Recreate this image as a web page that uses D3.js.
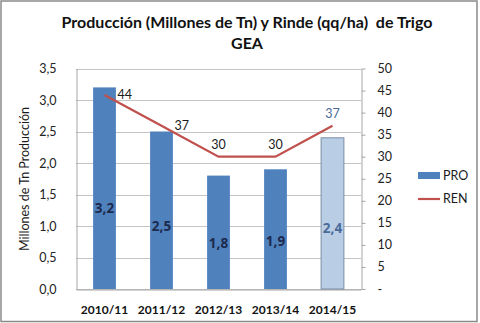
<!DOCTYPE html>
<html>
<head>
<meta charset="utf-8">
<script src="https://cdn.jsdelivr.net/npm/d3@7"></script>
<style>
  html, body { margin: 0; padding: 0; background: #fff; }
  svg { display: block; font-family: Lato, "Open Sans", sans-serif; }
</style>
</head>
<body>
<script>
// Wheat production (million t) and yield (qq/ha) by campaign
const campaigns = ["2010/11", "2011/12", "2012/13", "2013/14", "2014/15"];
const produccion = [3.2, 2.5, 1.8, 1.9, 2.4];
const rinde = [44, 37, 30, 30, 37];
const leftTicks = [0, 0.5, 1, 1.5, 2, 2.5, 3, 3.5];
const rightTicks = [0, 5, 10, 15, 20, 25, 30, 35, 40, 45, 50];
const seriesNames = ["PRO", "REN"];
const rindeLabelSide = ["right", "right", "above", "above", "above"];

const W = 480, H = 323;
const plot = { left: 76, right: 361, top: 68.5, bottom: 289 };

const es = d3.formatLocale({ decimal: ",", thousands: ".", grouping: [3], currency: ["$", ""] });
const fmt1 = es.format(".1f");
const fmt0 = es.format(".0f");

const svg = d3.select("body").append("svg").attr("width", W).attr("height", H);

// outer frame
svg.append("rect").attr("x", 1).attr("y", 1).attr("width", W - 4).attr("height", H - 2.5)
  .attr("fill", "#fff").attr("stroke", "#8a8a8a").attr("stroke-width", 1.5);

const x = d3.scaleBand().domain(campaigns).range([plot.left, plot.right]).paddingInner(0.6).paddingOuter(0.3);
const xc = d3.scaleBand().domain(campaigns).range([plot.left, plot.right]);
const yL = d3.scaleLinear().domain([0, 3.5]).range([plot.bottom, plot.top]);
const yR = d3.scaleLinear().domain([0, 50]).range([plot.bottom, plot.top]);

// gridlines
svg.append("g").selectAll("line").data(leftTicks).join("line")
  .attr("x1", plot.left).attr("x2", plot.right)
  .attr("y1", d => Math.round(yL(d)) + 0.5).attr("y2", d => Math.round(yL(d)) + 0.5)
  .attr("stroke", "#c4c4c4").attr("stroke-width", 1);

// left axis
const axL = svg.append("g").attr("transform", `translate(${plot.left + 0.5},0)`)
  .call(d3.axisLeft(yL).tickValues(leftTicks).tickFormat(fmt1).tickSize(0).tickPadding(20));
axL.select(".domain").attr("stroke", "#a6a6a6");
axL.selectAll("text").attr("font-size", 12.5).attr("fill", "#222").attr("font-family", "Lato, sans-serif");

// right axis
const axR = svg.append("g").attr("transform", `translate(${plot.right + 0.5},0)`)
  .call(d3.axisRight(yR).tickValues(rightTicks).tickFormat(d => d === 0 ? "-" : fmt0(d)).tickSizeInner(4).tickSizeOuter(0).tickPadding(12));
axR.select(".domain").attr("stroke", "#a6a6a6");
axR.selectAll(".tick line").attr("stroke", "#a6a6a6");
axR.selectAll("text").attr("font-size", 12.5).attr("fill", "#222").attr("font-family", "Lato, sans-serif");

// bottom axis
const axB = svg.append("g").attr("transform", `translate(0,${Math.round(plot.bottom) + 0.5})`)
  .call(d3.axisBottom(xc).tickSize(0).tickPadding(16));
axB.select(".domain").attr("stroke", "#a6a6a6");
axB.selectAll("text").attr("font-size", 12).attr("font-weight", "bold").attr("fill", "#111")
  .attr("font-family", "Lato, sans-serif");

// production bars (last campaign is an estimate, drawn lighter)
const last = campaigns.length - 1;
svg.append("g").selectAll("rect").data(produccion).join("rect")
  .attr("x", (d, i) => x(campaigns[i]))
  .attr("width", x.bandwidth())
  .attr("y", d => yL(d))
  .attr("height", d => yL(0) - yL(d))
  .attr("fill", (d, i) => i === last ? "#b9cde5" : "#4f81bd")
  .attr("stroke", (d, i) => i === last ? "#7a8da6" : "none")
  .attr("stroke-width", 1);

// bar value labels
svg.append("g").selectAll("text").data(produccion).join("text")
  .attr("x", (d, i) => x(campaigns[i]) + x.bandwidth() / 2)
  .attr("y", d => yL(d * 0.4))
  .attr("dy", "0.35em")
  .attr("text-anchor", "middle")
  .attr("font-family", "'Open Sans', sans-serif")
  .attr("font-size", 13.5).attr("font-weight", "bold")
  .attr("fill", (d, i) => i === last ? "#4a6a98" : "#1c2a4e")
  .text(d => fmt1(d));

// yield line
const line = d3.line().x((d, i) => xc(campaigns[i]) + xc.bandwidth() / 2).y(d => yR(d));
svg.append("path").datum(rinde).attr("d", line)
  .attr("fill", "none").attr("stroke", "#c0504d").attr("stroke-width", 2.2);

// yield labels
svg.append("g").selectAll("text").data(rinde).join("text")
  .attr("x", (d, i) => xc(campaigns[i]) + xc.bandwidth() / 2 + (rindeLabelSide[i] === "right" ? 13 : 0))
  .attr("y", d => yR(d))
  .attr("dy", (d, i) => rindeLabelSide[i] === "right" ? "0.3em" : "-0.6em")
  .attr("text-anchor", (d, i) => rindeLabelSide[i] === "right" ? "start" : "middle")
  .attr("font-size", 12.5)
  .attr("fill", (d, i) => i === last ? "#4a6a98" : "#1a1a1a")
  .text(d => fmt0(d));

// title
const title = svg.append("text").attr("text-anchor", "middle").attr("font-weight", "bold")
  .attr("font-size", 16).attr("fill", "#111");
title.append("tspan").attr("x", 247).attr("y", 28).text("Producción (Millones de Tn) y Rinde (qq/ha)\u00a0 de Trigo");
title.append("tspan").attr("x", 247).attr("y", 49).text("GEA");

// left axis title
svg.append("text").attr("transform", "translate(29,179) rotate(-90)")
  .attr("text-anchor", "middle").attr("font-size", 12.5).attr("fill", "#1a1a1a")
  .text("Millones de Tn Producción");

// legend
const lg = svg.append("g").attr("transform", "translate(418,0)");
lg.append("rect").attr("x", 0).attr("y", 172).attr("width", 22).attr("height", 7).attr("fill", "#4f81bd");
lg.append("line").attr("x1", 0).attr("x2", 22).attr("y1", 199).attr("y2", 199)
  .attr("stroke", "#c0504d").attr("stroke-width", 2.2);
lg.selectAll("text").data(seriesNames).join("text")
  .attr("x", 25).attr("y", (d, i) => i === 0 ? 176 : 199).attr("dy", "0.35em")
  .attr("font-size", 12.5).attr("fill", "#1a1a1a").text(d => d);
</script>
</body>
</html>
